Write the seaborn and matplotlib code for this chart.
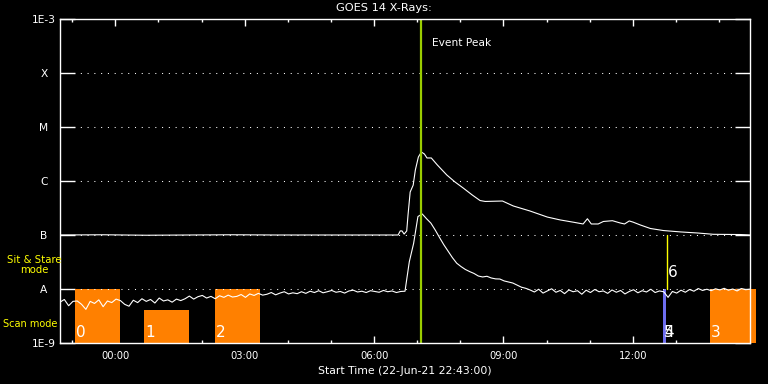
import numpy as np
import pandas as pd
import seaborn as sns
import matplotlib.pyplot as plt
from matplotlib.ticker import NullLocator

# GOES 14 X-ray flux, hours after start time 22:43 on 22-Jun-21
# short channel (0.5-4 A), sampled every 0.1 h, units of 1e-9 W/m^2
short_hours = np.round(np.arange(0, 16.01, 0.1), 1)
short_vals = [
    5.7, 6.4, 4.9, 5.9, 6.0, 5.2, 4.2, 5.9, 5.4, 6.3,
    4.7, 6.0, 5.6, 6.5, 6.1, 5.2, 4.8, 6.2, 5.6, 6.6,
    5.9, 6.4, 5.5, 6.8, 6.0, 6.3, 5.7, 6.5, 6.1, 6.6,
    7.4, 6.5, 7.2, 7.6, 6.8, 7.3, 6.6, 7.5, 7.0, 7.7,
    7.1, 7.3, 7.9, 7.0, 8.1, 7.6, 8.3, 7.7, 8.0, 8.6,
    7.8, 8.4, 8.9, 8.1, 8.5, 8.2, 8.9, 8.3, 9.1, 8.6,
    9.3, 8.5, 8.9, 9.4, 8.7, 9.0, 8.4, 9.2, 9.5, 8.8,
    9.1, 8.6, 9.3, 9.0, 8.7, 9.4, 8.9, 9.2, 8.6, 9.0,
    9.1, 32.0, 70.0, 220.0, 245.0, 200.0, 166.0, 124.0, 90.0, 66.0,
    50.0, 38.0, 30.0, 26.0, 23.0, 21.0, 19.4, 17.4, 16.7, 17.2,
    16.0, 15.4, 15.3, 14.1, 13.5, 12.9, 11.8, 10.8, 10.3, 9.6,
    8.8, 9.9, 8.4, 9.2, 10.1, 8.7, 9.4, 8.2, 9.6, 8.9,
    9.3, 8.0, 9.5, 8.6, 9.8, 8.9, 9.2, 8.3, 9.6, 8.7,
    9.4, 8.1, 9.0, 9.7, 8.5, 9.3, 8.8, 9.9, 8.6, 9.2,
    8.9, 7.0, 9.0, 8.4, 9.5, 8.7, 9.8, 9.1, 10.2, 9.4,
    9.9, 9.3, 10.1, 9.6, 10.3, 9.5, 10.0, 9.2, 10.2, 9.7,
    9.9,
]
short_flux = np.array(short_vals) * 1e-9

# long channel (1-8 A)
long_hours = [0.0, 1.0, 2.0, 3.0, 4.0, 5.0, 6.0, 7.0, 7.84, 7.89, 7.93, 7.98,
              8.04, 8.07, 8.12, 8.19, 8.24, 8.31, 8.38, 8.45, 8.51, 8.61, 8.75,
              8.97, 9.16, 9.35, 9.56, 9.74, 9.86, 10.26, 10.51, 10.90, 11.30,
              11.60, 11.95, 12.13, 12.23, 12.32, 12.48, 12.60, 12.81, 12.99,
              13.09, 13.20, 13.29, 13.46, 13.69, 13.99, 14.39, 14.78, 15.15,
              15.78, 16.0]
long_flux = [1.00e-7, 1.01e-7, 0.99e-7, 1.00e-7, 1.01e-7, 1.00e-7, 1.00e-7,
             1.00e-7, 1.00e-7, 1.19e-7, 1.19e-7, 1.04e-7, 1.19e-7, 2.34e-7,
             6.25e-7, 8.4e-7, 1.6e-6, 2.78e-6, 3.44e-6, 3.16e-6, 2.67e-6,
             2.67e-6, 1.98e-6, 1.29e-6, 9.58e-7, 7.41e-7, 5.5e-7, 4.35e-7,
             4.18e-7, 4.26e-7, 3.45e-7, 2.78e-7, 2.15e-7, 1.9e-7, 1.70e-7,
             1.6e-7, 2.0e-7, 1.6e-7, 1.6e-7, 1.78e-7, 1.84e-7, 1.67e-7, 1.6e-7,
             1.82e-7, 1.73e-7, 1.53e-7, 1.32e-7, 1.21e-7, 1.14e-7, 1.09e-7,
             1.03e-7, 1.02e-7, 1.00e-7]

# observation windows (hours after start)
obs_labels = ['0', '1', '2', '3']
obs_start = [0.35, 1.95, 3.60, 15.08]
obs_end = [1.39, 2.99, 4.64, 16.13]
obs_top = [1e-8, 4.1e-9, 1e-8, 1e-8]   # sit & stare reaches A, scan is lower
other_labels = ['5', '4']
other_start = [13.99, 13.99]
other_end = [14.05, 14.05]
marker_label = '6'
marker_hour = 14.07
marker_range = [1e-8, 1e-7]
peak_hour = 8.376

level_vals = [1e-9, 1e-8, 1e-7, 1e-6, 1e-5, 1e-4, 1e-3]
level_names = ['1E-9', 'A', 'B', 'C', 'M', 'X', '1E-3']
major_hours = [1.2833, 4.2833, 7.2833, 10.2833, 13.2833]
major_names = ['00:00', '03:00', '06:00', '09:00', '12:00']
minor_hours = [0.2833 + h for h in range(16)]

sns.set_theme(style='dark', rc={'axes.facecolor': 'black', 'figure.facecolor': 'black',
                               'axes.edgecolor': 'white', 'text.color': 'white'})
plt.rcParams['font.family'] = ['DejaVu Sans']

fig = plt.figure(figsize=(7.68, 3.84), dpi=100)
ax = fig.add_axes([60 / 768, 1 - 343 / 384, 690 / 768, 324 / 384])
ax.set_facecolor('black')

orange = '#FF8000'
ax.bar(obs_start, np.array(obs_top) - 1e-9, width=np.array(obs_end) - np.array(obs_start),
       bottom=1e-9, align='edge', color=orange, linewidth=0, zorder=1, clip_on=False)
ax.bar(other_start, 1e-8 - 1e-9, width=np.array(other_end) - np.array(other_start),
       bottom=1e-9, align='edge', color='#6E6EF0', linewidth=0, zorder=1)
ax.plot([marker_hour, marker_hour], marker_range, color='yellow', lw=1, zorder=2)

for lab, x0 in zip(obs_labels, obs_start):
    ax.text(x0 + 0.02, 1.55e-9, lab, color='white', fontsize=11, ha='left', va='center', zorder=6)
for lab, x0 in zip(other_labels, other_start):
    ax.text(x0 + 0.02, 1.55e-9, lab, color='white', fontsize=11, ha='left', va='center', zorder=6)
ax.text(marker_hour + 0.02, 2.06e-8, marker_label, color='white', fontsize=11,
        ha='left', va='center', zorder=6)

# dotted level lines
for lv in level_vals[1:-1]:
    ax.axhline(lv, color='white', lw=0.75, linestyle=(0, (1, 5.5)), zorder=3)

sns.lineplot(x=short_hours, y=short_flux, ax=ax, color='white', lw=0.8,
             estimator=None, sort=False, zorder=4)
sns.lineplot(x=long_hours, y=long_flux, ax=ax, color='white', lw=0.8,
             estimator=None, sort=False, zorder=4)

ax.axvline(peak_hour, color='#9ACD00', lw=1.6, zorder=5)
ax.text(8.63, 0.926, 'Event Peak', transform=ax.get_xaxis_transform(),
        color='white', fontsize=7.7, ha='left', va='center')

ax.set_yscale('log')
ax.set_ylim(1e-9, 1e-3)
ax.set_xlim(0, 16)
ax.set_yticks(level_vals)
ax.set_yticklabels(level_names)
ax.yaxis.set_minor_locator(NullLocator())
ax.set_xticks(major_hours)
ax.set_xticklabels(major_names)
ax.set_xticks(minor_hours, minor=True)

ax.tick_params(axis='y', which='major', direction='in', length=10.8, width=1,
               colors='white', left=True, right=True, pad=11.5, labelsize=7.7)
for t in ax.get_yticklabels():
    t.set_ha('center')
ax.tick_params(axis='x', which='major', direction='in', length=5, width=1,
               colors='white', top=True, bottom=True, pad=6, labelsize=7.2)
ax.tick_params(axis='x', which='minor', direction='in', length=2.5, width=1,
               colors='white', top=True, bottom=True)
for s in ax.spines.values():
    s.set_color('white')
    s.set_linewidth(1)
    s.set_zorder(7)

ax.set_xlabel('Start Time (22-Jun-21 22:43:00)', color='white', fontsize=7.8, labelpad=3)
ax.set_ylabel('')
fig.text(0.5, 1 - 8 / 384, 'GOES 14 X-Rays:', color='white', fontsize=8.2,
         ha='center', va='center')
fig.text(34 / 768, 1 - 265 / 384, 'Sit & Stare\nmode', color='yellow', fontsize=7.3,
         ha='center', va='center', linespacing=1.1)
fig.text(3 / 768, 1 - 324 / 384, 'Scan mode', color='yellow', fontsize=7.0,
         ha='left', va='center')

fig.savefig('out.png', dpi=100, facecolor='black')
